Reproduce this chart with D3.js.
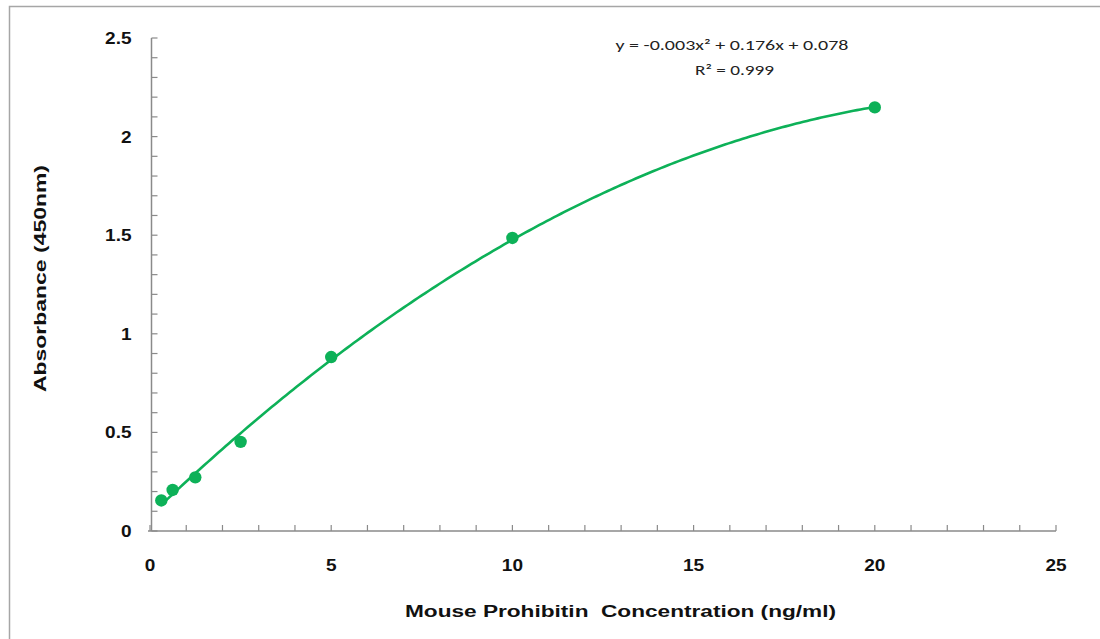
<!DOCTYPE html>
<html>
<head>
<meta charset="utf-8">
<script src="https://d3js.org/d3.v7.min.js"></script>
<style>
  html, body { margin: 0; padding: 0; background: #fff; }
  svg { display: block; }
</style>
</head>
<body>
<svg id="chart" width="1100" height="639"></svg>
<script>
// ---- Data ----
const concentrations = [0.3125, 0.625, 1.25, 2.5, 5, 10, 20];
const absorbances = [0.155, 0.208, 0.272, 0.452, 0.882, 1.486, 2.148];
const xTicks = [0, 5, 10, 15, 20, 25];
const yTicks = [0, 0.5, 1, 1.5, 2, 2.5];
const yTickLabels = ["0", "0.5", "1", "1.5", "2", "2.5"];
const equationText = "y = -0.003x² + 0.176x + 0.078";
const r2Text = "R² = 0.999";
const xTitle = "Mouse Prohibitin  Concentration (ng/ml)";
const yTitle = "Absorbance (450nm)";

const svg = d3.select("#chart");
const green = "#0db158";
const axisGray = "#8a8a8a";
const font = "'Liberation Sans', Arial, sans-serif";

// chart border (cropped at right/bottom)
svg.append("path")
  .attr("d", "M9.5,640 L9.5,6.5 L1101,6.5")
  .attr("fill", "none").attr("stroke", "#a6a6a6").attr("stroke-width", 1.5);

const x = d3.scaleLinear().domain([0, 25]).range([150, 1056]);
const y = d3.scaleLinear().domain([0, 2.5]).range([531, 38]);

// minor ticks
const xMinor = d3.range(0, 25.001, 1);
const yMinor = d3.range(0, 2.5001, 0.1);

const gx = svg.append("g").attr("transform", `translate(0,${y(0)})`);
gx.append("line").attr("x1", x(0) - 2).attr("x2", x(25)).attr("stroke", axisGray).attr("stroke-width", 1.5);
gx.selectAll("line.tk").data(xMinor).join("line").attr("class", "tk")
  .attr("x1", d => x(d)).attr("x2", d => x(d)).attr("y1", 0).attr("y2", -6)
  .attr("stroke", axisGray).attr("stroke-width", 1.2);
gx.selectAll("text").data(xTicks).join("text")
  .attr("x", d => x(d)).attr("y", 40)
  .attr("text-anchor", "middle")
  .attr("font-family", font).attr("font-weight", "bold").attr("font-size", 17)
  .attr("fill", "#111")
  .attr("transform", d => `translate(${x(d)},0) scale(1.12,1) translate(${-x(d)},0)`)
  .text(d => d);

const gy = svg.append("g").attr("transform", `translate(${x(0) + 1.5},0)`);
gy.append("line").attr("y1", y(0)).attr("y2", y(2.5)).attr("stroke", axisGray).attr("stroke-width", 1.5);
gy.selectAll("line.tk").data(yMinor).join("line").attr("class", "tk")
  .attr("y1", d => y(d)).attr("y2", d => y(d)).attr("x1", 0).attr("x2", 6)
  .attr("stroke", axisGray).attr("stroke-width", 1.2);
gy.selectAll("text").data(yTicks).join("text")
  .attr("x", -20).attr("y", d => y(d) + 6)
  .attr("text-anchor", "end")
  .attr("font-family", font).attr("font-weight", "bold").attr("font-size", 17)
  .attr("fill", "#111")
  .attr("transform", d => `translate(-20,0) scale(1.12,1) translate(20,0)`)
  .text((d, i) => yTickLabels[i]);

// Axis titles
svg.append("text")
  .attr("x", 405).attr("y", 617)
  .attr("font-family", font).attr("font-weight", "bold").attr("font-size", 16)
  .attr("fill", "#111")
  .attr("textLength", 431).attr("lengthAdjust", "spacingAndGlyphs")
  .attr("xml:space", "preserve")
  .text(xTitle);

svg.append("text")
  .attr("transform", "translate(46,392) rotate(-90)")
  .attr("x", 0).attr("y", 0)
  .attr("font-family", font).attr("font-weight", "bold").attr("font-size", 16)
  .attr("fill", "#111")
  .attr("textLength", 227).attr("lengthAdjust", "spacingAndGlyphs")
  .text(yTitle);

// Quadratic least-squares trendline computed from the data
function quadFit(xs, ys) {
  let s = [0,0,0,0,0], t = [0,0,0];
  xs.forEach((xi, i) => {
    const yi = ys[i];
    for (let k = 0; k < 5; k++) s[k] += Math.pow(xi, k);
    for (let k = 0; k < 3; k++) t[k] += yi * Math.pow(xi, k);
  });
  const M = [[s[0], s[1], s[2], t[0]], [s[1], s[2], s[3], t[1]], [s[2], s[3], s[4], t[2]]];
  for (let i = 0; i < 3; i++) {
    for (let j = i + 1; j < 3; j++) {
      const f = M[j][i] / M[i][i];
      for (let k = i; k < 4; k++) M[j][k] -= f * M[i][k];
    }
  }
  const c = [0,0,0];
  for (let i = 2; i >= 0; i--) {
    let v = M[i][3];
    for (let k = i + 1; k < 3; k++) v -= M[i][k] * c[k];
    c[i] = v / M[i][i];
  }
  return c; // c0 + c1 x + c2 x^2
}
const coef = quadFit(concentrations, absorbances);
const xMin = d3.min(concentrations), xMax = d3.max(concentrations);
const curveX = d3.range(0, 201).map(i => xMin + (xMax - xMin) * i / 200);
const line = d3.line()
  .x(d => x(d))
  .y(d => y(coef[0] + coef[1] * d + coef[2] * d * d));
svg.append("path").datum(curveX)
  .attr("d", line)
  .attr("fill", "none").attr("stroke", green).attr("stroke-width", 2.6);

// Points
svg.selectAll("circle.pt").data(concentrations).join("circle").attr("class", "pt")
  .attr("cx", d => x(d)).attr("cy", (d, i) => y(absorbances[i]))
  .attr("r", 6.2).attr("fill", green);

// Equation
const eqFont = "Carlito, 'Open Sans', 'Liberation Sans', sans-serif";
svg.append("text")
  .attr("x", 732).attr("y", 50)
  .attr("text-anchor", "middle")
  .attr("font-family", eqFont).attr("font-size", 15).attr("fill", "#222")
  .attr("textLength", 233).attr("lengthAdjust", "spacingAndGlyphs")
  .text(equationText);
svg.append("text")
  .attr("x", 734.5).attr("y", 75)
  .attr("text-anchor", "middle")
  .attr("font-family", eqFont).attr("font-size", 15).attr("fill", "#222")
  .attr("textLength", 79).attr("lengthAdjust", "spacingAndGlyphs")
  .text(r2Text);
</script>
</body>
</html>
